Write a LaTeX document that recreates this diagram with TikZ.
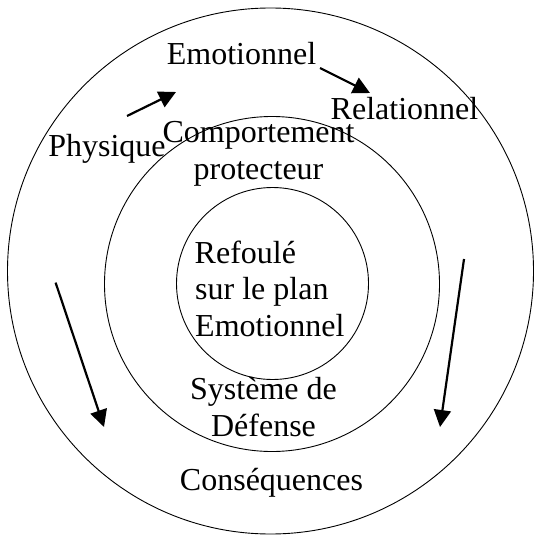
\documentclass[tikz,border=0pt]{standalone}
\usepackage{fontspec}
\setmainfont{Liberation Serif}
\usetikzlibrary{arrows.meta}
\begin{document}
\begin{tikzpicture}[x=1pt,y=-1pt,
  ring/.style={draw=black,line width=0.9pt},
  lbl/.style={inner sep=0pt,anchor=base,font=\fontsize{32}{36}\selectfont},
  lblw/.style={inner sep=0pt,anchor=base west,font=\fontsize{32}{36}\selectfont},
  flow/.style={line width=2.2pt,-{Triangle[length=17pt,width=17pt]}}]
\useasboundingbox (0,0) rectangle (535,537);
% circles
\draw[ring] (270.5,271) circle[radius=263];
\draw[ring] (272,284) circle[radius=167.5];
\draw[ring] (272.5,283.5) circle[radius=96];
% labels
\node[lbl] (emo) at (241.5,65) {Emotionnel};
\node[lbl] (rel) at (404.5,120) {Relationnel};
\node[lbl] (phy) at (107,157) {Physique};
\node[lbl] (comp1) at (258.5,143) {Comportement};
\node[lbl] (comp2) at (258.5,179) {protecteur};
\node[lblw] (ref1) at (194.5,263) {Refoulé};
\node[lblw] (ref2) at (195,299) {sur le plan};
\node[lblw] (ref3) at (195,336) {Emotionnel};
\node[lbl] (sys1) at (263.5,399) {Système de};
\node[lbl] (sys2) at (263.5,436) {Défense};
\node[lbl] (cons) at (271.5,490) {Conséquences};
% arrow end points
\coordinate (a1s) at (127,116);
\coordinate (a1e) at (176,92);
\coordinate (a2s) at (320,68);
\coordinate (a2e) at (370,93);
\coordinate (a3s) at (55.6,282.6);
\coordinate (a3e) at (104,427);
\coordinate (a4s) at (464,259);
\coordinate (a4e) at (440,427);
\draw[flow] (a1s) -- (a1e);
\draw[flow] (a2s) -- (a2e);
\draw[flow] (a3s) -- (a3e);
\draw[flow] (a4s) -- (a4e);
\end{tikzpicture}
\end{document}
